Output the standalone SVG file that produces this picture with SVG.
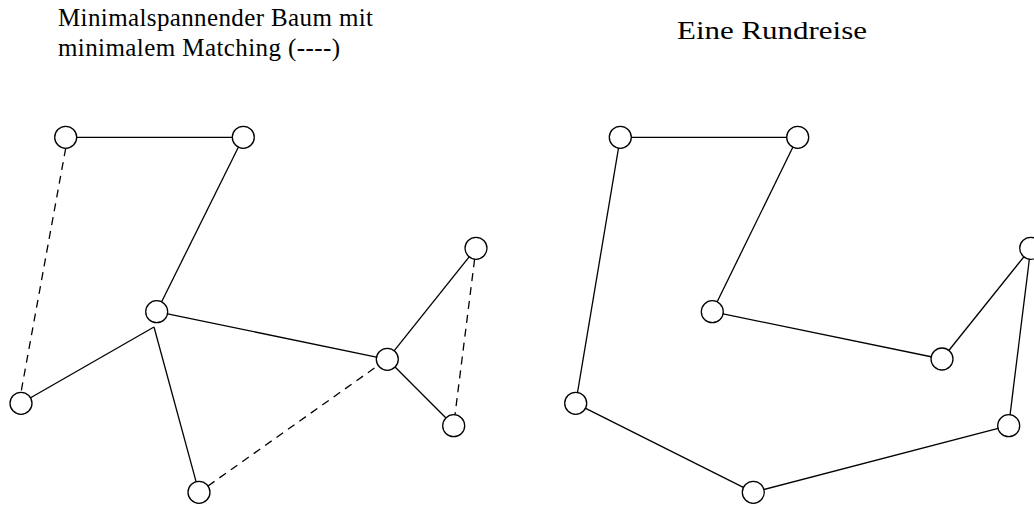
<svg xmlns="http://www.w3.org/2000/svg" width="1034" height="506" viewBox="0 0 1034 506">
  <style>
    .edge { stroke: #000; stroke-width: 1.3; fill: none; }
    .match { stroke-dasharray: 8 6; }
    .node { fill: #fff; stroke: #000; stroke-width: 1.3; }
  </style>

  <!-- Titles -->
  <g font-family="'Liberation Serif', 'DejaVu Serif', serif" fill="#000">
    <text x="58" y="26" font-size="25" textLength="315" lengthAdjust="spacing">Minimalspannender Baum mit</text>
    <text x="58" y="56" font-size="25" textLength="282" lengthAdjust="spacing">minimalem Matching (----)</text>
    <text x="677" y="39" font-size="25" textLength="190" lengthAdjust="spacingAndGlyphs">Eine Rundreise</text>
  </g>

  <!-- Left graph: spanning tree (solid) and matching (dashed) -->
  <g id="tree-edges">
    <line class="edge" x1="65.7" y1="137.3" x2="243.3" y2="137.3"/>
    <line class="edge" x1="243.3" y1="137.3" x2="156.7" y2="311.7"/>
    <line class="edge" x1="156.7" y1="311.7" x2="387.3" y2="359.3"/>
    <line class="edge" x1="154" y1="327" x2="21" y2="403.3"/>
    <line class="edge" x1="154" y1="327" x2="199" y2="492.3"/>
    <line class="edge" x1="387.3" y1="359.3" x2="476" y2="248.3"/>
    <line class="edge" x1="387.3" y1="359.3" x2="453.7" y2="425.7"/>
    <line class="edge match" x1="65.7" y1="148.3" x2="21" y2="392.3"/>
    <line class="edge match" x1="208" y1="486" x2="378" y2="365.5"/>
    <line class="edge match" x1="474.6" y1="259.3" x2="455" y2="414.7"/>
  </g>
  <g id="tree-a"><circle class="node" cx="65.7" cy="137.3" r="11"/></g>
  <g id="tree-b"><circle class="node" cx="243.3" cy="137.3" r="11"/></g>
  <g id="tree-c"><circle class="node" cx="156.7" cy="311.7" r="11"/></g>
  <g id="tree-d"><circle class="node" cx="21" cy="403.3" r="11"/></g>
  <g id="tree-e"><circle class="node" cx="199" cy="492.3" r="11"/></g>
  <g id="tree-f"><circle class="node" cx="387.3" cy="359.3" r="11"/></g>
  <g id="tree-g"><circle class="node" cx="476" cy="248.3" r="11"/></g>
  <g id="tree-h"><circle class="node" cx="453.7" cy="425.7" r="11"/></g>

  <!-- Right graph: tour -->
  <g id="tour-edges">
    <line class="edge" x1="620.3" y1="137.3" x2="797.7" y2="137.3"/>
    <line class="edge" x1="797.7" y1="137.3" x2="712.3" y2="311.7"/>
    <line class="edge" x1="712.3" y1="311.7" x2="942" y2="359"/>
    <line class="edge" x1="942" y1="359" x2="1030.7" y2="248.3"/>
    <line class="edge" x1="1030.7" y1="248.3" x2="1008.7" y2="425.7"/>
    <line class="edge" x1="1008.7" y1="425.7" x2="753.3" y2="492.3"/>
    <line class="edge" x1="753.3" y1="492.3" x2="575.7" y2="403.3"/>
    <line class="edge" x1="575.7" y1="403.3" x2="620.3" y2="137.3"/>
  </g>
  <g id="tour-a"><circle class="node" cx="620.3" cy="137.3" r="11"/></g>
  <g id="tour-b"><circle class="node" cx="797.7" cy="137.3" r="11"/></g>
  <g id="tour-c"><circle class="node" cx="712.3" cy="311.7" r="11"/></g>
  <g id="tour-d"><circle class="node" cx="575.7" cy="403.3" r="11"/></g>
  <g id="tour-e"><circle class="node" cx="753.3" cy="492.3" r="11"/></g>
  <g id="tour-f"><circle class="node" cx="942" cy="359" r="11"/></g>
  <g id="tour-g"><circle class="node" cx="1030.7" cy="248.3" r="11"/></g>
  <g id="tour-h"><circle class="node" cx="1008.7" cy="425.7" r="11"/></g>
</svg>
